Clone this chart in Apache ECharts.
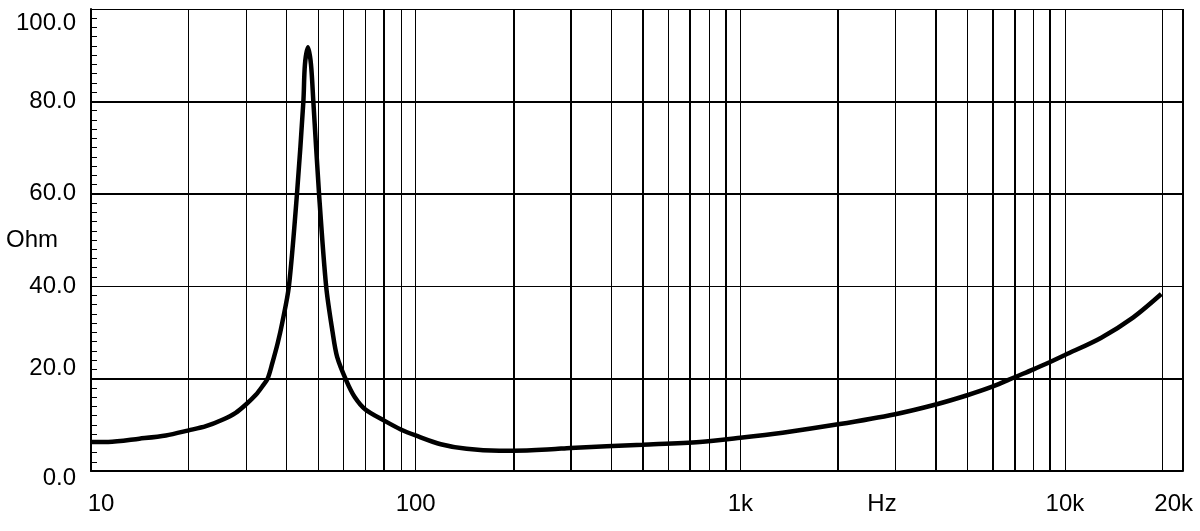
<!DOCTYPE html>
<html>
<head>
    <meta charset="utf-8">
    <title>Impedance</title>
    <style>
        html, body { margin: 0; padding: 0; background: #fff; }
        #chart { width: 1200px; height: 531px; }
    </style>
</head>
<body>
    <div id="chart"></div>
    <script src="https://cdn.jsdelivr.net/npm/echarts@6/dist/echarts.min.js"></script>
    <script type="text/javascript">
        // impedance curve (Hz, Ohm)
        var freqHz = [10, 11.3, 14.1, 17, 20, 22.6, 25.4, 27.9, 30, 32.2, 33.7, 35, 36.2, 37.6, 38.8, 40.7,
            43.1, 45.1, 45.6, 46.6, 47.6, 48.4, 50.4, 53, 55.5, 57.3, 61.2, 64.9, 70, 80, 90, 100,
            119.5, 143.6, 181, 200, 262, 300, 500, 750, 1000, 1350, 2000, 3000, 4000, 5000, 6000,
            7000, 8000, 9000, 10000, 12900, 16200, 19800];
        var impedanceOhm = [6.3, 6.3, 7.0, 7.7, 8.8, 9.7, 11.1, 12.6, 14.4, 16.5, 18.3, 20, 23.4, 27.7, 32, 40,
            60, 80, 88, 91.7, 88, 80, 60, 40, 30, 24.7, 19.5, 16.0, 13.3, 10.9, 9.0, 7.7,
            5.8, 4.8, 4.4, 4.4, 4.7, 5.0, 5.7, 6.3, 7.2, 8.3, 10.1, 12.3, 14.4, 16.4, 18.3,
            20.3, 22.0, 23.6, 25.1, 28.8, 33.2, 38.3];

        // axis ranges and labels
        var xMin = 10, xMax = 23100;
        var xLabelValues = [10, 100, 1000, 10000, 20000];
        var xLabelText = ['10', '100', '1k', '10k', '20k'];
        var yTicks = [0, 20, 40, 60, 80, 100];

        // grid lines (the original draws some heavier than others)
        var thinFreqs = [20, 30, 40, 50, 60, 70, 90, 100, 400, 600, 800, 1000, 3000, 5000, 8000, 10000, 20000];
        var thickFreqs = [80, 200, 300, 500, 700, 900, 2000, 4000, 6000, 7000, 9000, xMax];
        var thinLevels = [40, 100];
        var thickLevels = [20, 60, 80];

        var points = freqHz.map(function (f, i) { return [f, impedanceOhm[i]]; });

        function vLines(list) { return list.map(function (f) { return { xAxis: f }; }); }
        function hLines(list) { return list.map(function (v) { return { yAxis: v }; }); }

        var gridMark = function (data, w) {
            return {
                type: 'line',
                data: [],
                z: 1,
                silent: true,
                markLine: {
                    silent: true,
                    symbol: 'none',
                    animation: false,
                    label: { show: false },
                    lineStyle: { color: '#000', type: 'solid', width: w },
                    emphasis: { disabled: true },
                    data: data
                }
            };
        };

        var font = '"Liberation Sans", Arial, sans-serif';

        var myChart = echarts.init(document.getElementById('chart'));
        myChart.setOption({
            animation: false,
            backgroundColor: '#fff',
            grid: {
                left: 91,
                right: 17,
                top: 9,
                bottom: 60,
                containLabel: false,
                outerBoundsMode: 'none'
            },
            xAxis: {
                type: 'log',
                logBase: 10,
                min: xMin,
                max: xMax,
                name: 'Hz',
                nameLocation: 'middle',
                nameGap: 21,
                nameMoveOverlap: false,
                nameTextStyle: {
                    color: '#000',
                    fontSize: 24,
                    fontFamily: font,
                    padding: [0, 0, 0, 490]
                },
                axisLine: { show: true, lineStyle: { color: '#000', width: 2 } },
                axisTick: { show: false },
                splitLine: { show: false },
                axisLabel: {
                    customValues: xLabelValues,
                    color: '#000',
                    fontSize: 24,
                    fontFamily: font,
                    margin: 21,
                    formatter: function (v) {
                        var i = xLabelValues.indexOf(Math.round(v));
                        var t = i >= 0 ? xLabelText[i] : '';
                        if (i === 0) return '{l|' + t + '}';
                        if (i === xLabelValues.length - 1) return '{r|' + t + '}';
                        return t;
                    },
                    rich: {
                        l: { fontSize: 24, fontFamily: font, color: '#000', padding: [0, 0, 0, 20] },
                        r: { fontSize: 24, fontFamily: font, color: '#000', padding: [0, 0, 0, 22] }
                    }
                }
            },
            yAxis: {
                type: 'value',
                min: 0,
                max: 100,
                interval: 20,
                name: 'Ohm',
                nameLocation: 'middle',
                nameRotate: 0,
                nameGap: 33,
                nameMoveOverlap: false,
                nameTextStyle: {
                    color: '#000',
                    fontSize: 24,
                    fontFamily: font,
                    padding: [0, 0, 20, 0]
                },
                axisLine: { show: true, lineStyle: { color: '#000', width: 2 } },
                axisTick: { show: true, inside: true, length: 6, lineStyle: { color: '#000', width: 1 } },
                minorTick: { show: true, splitNumber: 10, length: 6, lineStyle: { color: '#000', width: 1 } },
                splitLine: { show: false },
                axisLabel: {
                    color: '#000',
                    fontSize: 24,
                    fontFamily: font,
                    margin: 15,
                    formatter: function (v) {
                        var t = v.toFixed(1);
                        // the original nudges a few labels off their lines
                        if (v === yTicks[5]) return '{dn|' + t + '}';
                        if (v === yTicks[1]) return '{up|' + t + '}';
                        if (v === yTicks[0]) return '{dn2|' + t + '}';
                        return t;
                    },
                    rich: {
                        dn: { fontSize: 24, fontFamily: font, color: '#000', padding: [29, 0, 0, 0] },
                        up: { fontSize: 24, fontFamily: font, color: '#000', padding: [0, 0, 20, 0] },
                        dn2: { fontSize: 24, fontFamily: font, color: '#000', padding: [15, 0, 0, 0] }
                    }
                }
            },
            series: [
                gridMark(vLines(thinFreqs).concat(hLines(thinLevels)), 1),
                gridMark(vLines(thickFreqs).concat(hLines(thickLevels)), 2),
                {
                    name: 'Impedance',
                    type: 'line',
                    z: 5,
                    smooth: 0.3,
                    showSymbol: false,
                    symbol: 'none',
                    lineStyle: { color: '#000', width: 4.5 },
                    data: points
                }
            ]
        });
        window.addEventListener('resize', function () {
            myChart.resize();
        });
    </script>
</body>
</html>
